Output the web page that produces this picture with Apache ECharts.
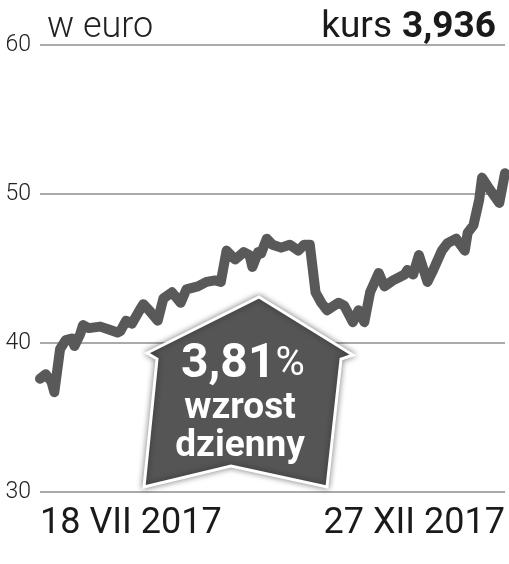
<!DOCTYPE html>
<html>
<head>
<meta charset="utf-8">
<script src="https://cdn.jsdelivr.net/npm/echarts@6/dist/echarts.min.js"></script>
<style>
  html, body { margin: 0; padding: 0; background: #fff; }
  #chart { width: 509px; height: 564px; }
</style>
</head>
<body>
<div id="chart"></div>
<script>
// kurs w euro, 18 VII 2017 - 27 XII 2017
const dates = [
  '2017-07-18', '2017-07-20', '2017-07-22', '2017-07-23', '2017-07-25', '2017-07-27',
  '2017-07-29', '2017-07-30', '2017-08-01', '2017-08-02', '2017-08-04', '2017-08-08',
  '2017-08-11', '2017-08-14', '2017-08-15', '2017-08-17', '2017-08-19', '2017-08-22',
  '2017-08-23', '2017-08-25', '2017-08-28', '2017-08-30', '2017-09-02', '2017-09-05',
  '2017-09-07', '2017-09-11', '2017-09-14', '2017-09-17', '2017-09-19', '2017-09-21',
  '2017-09-24', '2017-09-27', '2017-09-29', '2017-09-30', '2017-10-02', '2017-10-03',
  '2017-10-05', '2017-10-07', '2017-10-10', '2017-10-13', '2017-10-16', '2017-10-18',
  '2017-10-20', '2017-10-22', '2017-10-24', '2017-10-26', '2017-10-30', '2017-11-01',
  '2017-11-04', '2017-11-06', '2017-11-08', '2017-11-10', '2017-11-13', '2017-11-15',
  '2017-11-18', '2017-11-20', '2017-11-22', '2017-11-23', '2017-11-25', '2017-11-27',
  '2017-11-30', '2017-12-02', '2017-12-05', '2017-12-07', '2017-12-10', '2017-12-13',
  '2017-12-14', '2017-12-16', '2017-12-18', '2017-12-19', '2017-12-21', '2017-12-25',
  '2017-12-27'
];
const prices = [
  37.6, 37.9, 37.4, 36.7, 39.6, 40.2,
  40.3, 39.8, 40.6, 41.2, 41.0, 41.1,
  40.9, 40.7, 40.8, 41.5, 41.3, 42.3,
  42.6, 42.2, 41.5, 43.0, 43.4, 42.7,
  43.6, 43.8, 44.1, 44.2, 44.1, 46.2,
  45.6, 46.1, 45.9, 45.1, 46.1, 46.0,
  47.0, 46.6, 46.4, 46.6, 46.2, 46.6,
  46.6, 43.4, 42.7, 42.2, 42.7, 42.5,
  41.4, 42.2, 41.4, 43.4, 44.7, 43.8,
  44.2, 44.4, 44.6, 44.9, 44.6, 45.9,
  44.1, 44.9, 46.2, 46.7, 47.0, 46.2,
  47.4, 47.9, 49.6, 51.1, 50.5, 49.4,
  51.4
];
const xTickLabels = ['18 VII 2017', '27 XII 2017'];
const yTicks = [30, 40, 50, 60];

const dayMs = 24 * 3600 * 1000;
const t0 = Date.parse(dates[0]);
const lastDay = Math.round((Date.parse(dates[dates.length - 1]) - t0) / dayMs);
const seriesData = dates.map((d, i) => [Math.round((Date.parse(d) - t0) / dayMs), prices[i]]);

const chart = echarts.init(document.getElementById('chart'));

const option = {
  backgroundColor: '#fff',
  animation: false,
  title: [
    {
      text: 'w euro',
      left: 42,
      top: 5,
      textStyle: { fontFamily: 'Roboto', fontSize: 36, fontWeight: 300, color: '#222' }
    },
    {
      text: '{k|kurs}  {v|3,936}',
      right: 8,
      top: 4,
      textStyle: {
        rich: {
          k: { fontFamily: 'Roboto', fontSize: 37, fontWeight: 400, color: '#1a1a1a' },
          v: { fontFamily: 'Roboto', fontSize: 37, fontWeight: 700, color: '#1a1a1a' }
        }
      }
    }
  ],
  grid: { left: 40, right: 4, top: 45, bottom: 72 },
  xAxis: {
    type: 'value',
    min: 0,
    max: lastDay,
    interval: lastDay,
    axisLine: { show: false },
    axisTick: { show: false },
    splitLine: { show: false },
    axisLabel: {
      margin: 14,
      fontFamily: 'Roboto',
      fontSize: 36,
      color: '#1a1a1a',
      alignMinLabel: 'left',
      alignMaxLabel: 'right',
      formatter: v => (v === 0 ? xTickLabels[0] : xTickLabels[1])
    }
  },
  yAxis: {
    type: 'value',
    min: yTicks[0],
    max: yTicks[yTicks.length - 1],
    interval: 10,
    axisLine: { show: false },
    axisTick: { show: false },
    axisLabel: {
      margin: 9,
      fontFamily: 'Roboto',
      fontSize: 23,
      fontWeight: 300,
      color: '#222'
    },
    splitLine: { lineStyle: { color: '#aaa', width: 2 } }
  },
  series: [
    {
      type: 'line',
      data: seriesData,
      showSymbol: false,
      lineStyle: { color: '#595959', width: 10, join: 'round', cap: 'round' },
      z: 3
    }
  ],
  graphic: [
    {
      type: 'polygon',
      z: 10,
      shape: {
        points: [
          [259, 297], [353, 355], [341, 359], [327, 487], [231, 466],
          [144, 487], [157, 359], [147, 353]
        ]
      },
      style: {
        fill: '#555',
        stroke: '#fff',
        lineWidth: 3,
        shadowBlur: 6,
        shadowColor: 'rgba(0,0,0,0.45)'
      }
    },
    {
      type: 'text',
      z: 11,
      left: 181,
      top: 341,
      style: {
        text: '{a|3,81}{b|%}',
        rich: {
          a: { fontFamily: 'Roboto', fontSize: 48, fontWeight: 700, fill: '#fff' },
          b: { fontFamily: 'Roboto', fontSize: 40, fontWeight: 400, fill: '#fff' }
        }
      }
    },
    {
      type: 'text',
      z: 11,
      style: {
        x: 240, y: 409,
        text: 'wzrost',
        fill: '#fff',
        fontFamily: 'Roboto',
        fontSize: 37,
        fontWeight: 700,
        align: 'center',
        verticalAlign: 'middle'
      }
    },
    {
      type: 'text',
      z: 11,
      style: {
        x: 240, y: 447,
        text: 'dzienny',
        fill: '#fff',
        fontFamily: 'Roboto',
        fontSize: 37,
        fontWeight: 700,
        align: 'center',
        verticalAlign: 'middle'
      }
    }
  ]
};

chart.setOption(option);
window.addEventListener('resize', () => chart.resize());
</script>
</body>
</html>
